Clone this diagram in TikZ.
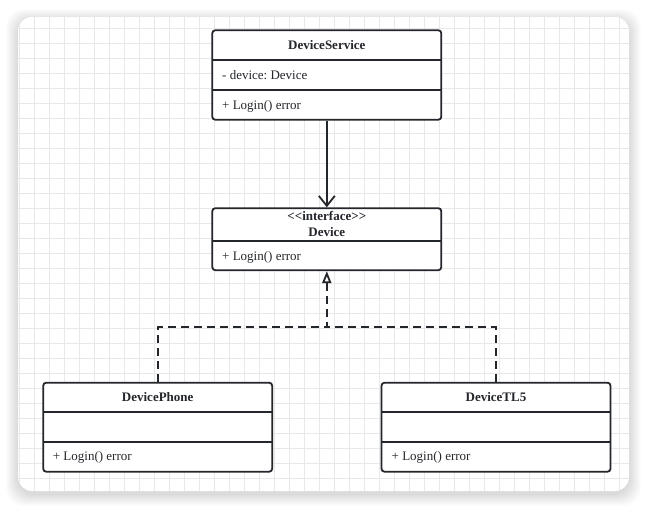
\documentclass[tikz,border=0pt]{standalone}
\usepackage{fontspec}
\setmainfont{Liberation Serif}
\frenchspacing
\usetikzlibrary{arrows.meta,positioning}
\definecolor{umlink}{HTML}{23262B}
\definecolor{gridgray}{HTML}{E8E8E8}
\tikzset{
 classbox/.style={draw=umlink, line width=1.8pt, rounded corners=3pt, fill=white, minimum width=229pt, inner sep=0pt},
 classname/.style={font=\fontsize{13}{16}\selectfont\bfseries, text=umlink, align=center, inner sep=0pt},
 member/.style={font=\fontsize{13}{15}\selectfont, text=umlink, anchor=base west, inner sep=0pt},
 divider/.style={draw=umlink, line width=1.8pt},
 uses/.style={draw=umlink, line width=1.8pt, -{Straight Barb[length=10pt,width=16pt]}},
 realizes/.style={draw=umlink, line width=1.8pt, dash pattern=on 8pt off 5pt, -{Triangle[length=12pt,width=9pt,fill=white]}},
 gridline/.style={draw=gridgray, line width=0.9pt},
}
\begin{document}
\begin{tikzpicture}[x=1pt, y=-1pt]
 \useasboundingbox (0,0) rectangle (647,509);
 % card, shadow and grid
 \foreach \s in {1,...,12}
  \fill[black, opacity=0.012, rounded corners=18pt] (18-\s,21-\s) rectangle (629+\s,494+\s);
 \fill[white, rounded corners=14pt] (18,17) rectangle (629,491);
 \begin{scope}
  \clip[rounded corners=14pt] (18,17) rectangle (629,491);
  \foreach \gx in {19.3,34.3,...,629} \draw[gridline] (\gx,17) -- (\gx,491);
  \foreach \gy in {28.3,43.3,...,491} \draw[gridline] (18,\gy) -- (629,\gy);
 \end{scope}

 % DeviceService
 \node[classbox, minimum height=89.5pt] (service) at (326.8,75) {};
 \node[classname, anchor=base] (serviceName) at (326.8,49) {DeviceService};
 \node[member] (serviceAttr) at (222,79) {- device: Device};
 \node[member] (serviceOp) at (222,109.3) {+ Login() error};
 \draw[divider] (212.2,60) -- (441.4,60);
 \draw[divider] (212.2,90) -- (441.4,90);

 % Device
 \node[classbox, minimum height=62pt] (device) at (326.8,239.2) {};
 \node[classname] (deviceName) at (326.8,224) {{<}{<}interface{>}{>}\\Device};
 \node[member] (deviceOp) at (222,260) {+ Login() error};
 \draw[divider] (212.2,240.8) -- (441.4,240.8);

 % DevicePhone
 \node[classbox, minimum height=89pt] (phone) at (157.7,427.2) {};
 \node[classname, anchor=base] (phoneName) at (157.7,401) {DevicePhone};
 \node[member] (phoneOp) at (52.7,460.8) {+ Login() error};
 \draw[divider] (43.1,412.3) -- (272.3,412.3);
 \draw[divider] (43.1,441.8) -- (272.3,441.8);

 % DeviceTL5
 \node[classbox, minimum height=89pt] (tl5) at (496,427.2) {};
 \node[classname, anchor=base] (tl5Name) at (496,401) {DeviceTL5};
 \node[member] (tl5Op) at (391.5,460.8) {+ Login() error};
 \draw[divider] (381.4,412.3) -- (610.6,412.3);
 \draw[divider] (381.4,441.8) -- (610.6,441.8);

 % connectors
 \coordinate (join) at (326.8,327.3);
 \draw[uses] (service.south) -- (device.north);
 \draw[realizes] (phone.north) |- (join) -- (device.south);
 \draw[realizes, -] (tl5.north) |- (join);
\end{tikzpicture}
\end{document}
